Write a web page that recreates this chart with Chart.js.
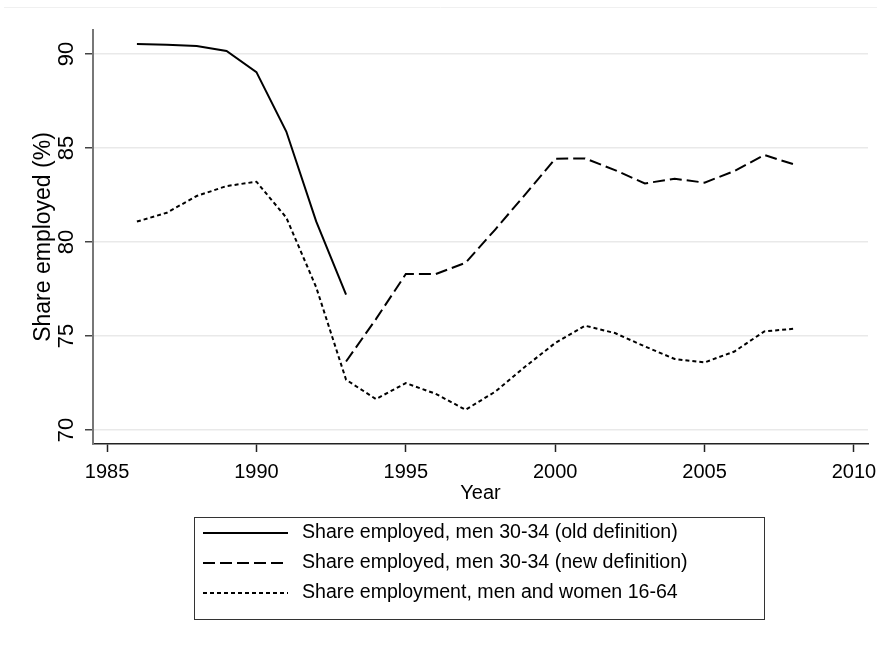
<!DOCTYPE html>
<html>
<head>
<meta charset="utf-8">
<script src="https://cdn.jsdelivr.net/npm/chart.js@4"></script>
<style>
  html, body { margin: 0; padding: 0; background: #fff; }
  #wrap { width: 877px; height: 646px; }
</style>
</head>
<body>
<div id="wrap"><canvas id="myChart" width="877" height="646"></canvas></div>
<script>
// Data
const years = [1986, 1987, 1988, 1989, 1990, 1991, 1992, 1993, 1994, 1995, 1996, 1997,
  1998, 1999, 2000, 2001, 2002, 2003, 2004, 2005, 2006, 2007, 2008];

const oldDefinition = [90.53, 90.50, 90.43, 90.16, 89.04, 85.88, 81.1, 77.2,
  null, null, null, null, null, null, null, null, null, null, null, null, null, null, null];

const newDefinition = [null, null, null, null, null, null, null, 73.65, 75.9, 78.3, 78.3, 78.9,
  80.68, 82.54, 84.43, 84.45, 83.83, 83.12, 83.37, 83.16, 83.78, 84.63, 84.13];

const employment = [81.09, 81.56, 82.45, 82.98, 83.21, 81.3, 77.6, 72.68, 71.65, 72.5, 71.93, 71.08,
  72.05, 73.38, 74.63, 75.55, 75.16, 74.45, 73.78, 73.6, 74.18, 75.25, 75.39];

const seriesLabels = [
  "Share employed, men 30-34 (old definition)",
  "Share employed, men 30-34 (new definition)",
  "Share employment, men and women 16-64"
];

const xTicks = [1985, 1990, 1995, 2000, 2005, 2010];
const yTicks = [70, 75, 80, 85, 90];

const FONT = "'Liberation Sans', Arial, sans-serif";

function points(values) {
  return years.map((y, i) => ({ x: y, y: values[i] }));
}

function makeSet(label, values, dash) {
  return {
    label: label,
    data: points(values),
    borderColor: "#000",
    borderWidth: 2,
    borderDash: dash,
    pointRadius: 0,
    tension: 0,
    fill: false,
    spanGaps: false
  };
}

// rotated y tick labels, framed legend, faint top rule
const extras = {
  id: "extras",
  beforeDraw(chart) {
    const ctx = chart.ctx;
    ctx.save();
    ctx.strokeStyle = "#f0f0f0";
    ctx.lineWidth = 1;
    ctx.beginPath();
    ctx.moveTo(4, 7.5);
    ctx.lineTo(877, 7.5);
    ctx.stroke();
    ctx.restore();
  },
  afterDraw(chart) {
    const ctx = chart.ctx;
    const ys = chart.scales.y;
    ctx.save();
    ctx.fillStyle = "#000";
    ctx.font = "22px " + FONT;
    ctx.textAlign = "center";
    ctx.textBaseline = "middle";
    yTicks.forEach(v => {
      const py = ys.getPixelForValue(v);
      ctx.save();
      ctx.translate(67, py);
      ctx.rotate(-Math.PI / 2);
      ctx.fillText(String(v), 0, 0);
      ctx.restore();
    });

    // legend box
    const bx = 194, by = 517, bw = 570, bh = 102;
    ctx.strokeStyle = "#333";
    ctx.lineWidth = 1;
    ctx.strokeRect(bx + 0.5, by + 0.5, bw, bh);
    ctx.font = "19.6px " + FONT;
    ctx.textAlign = "left";
    chart.data.datasets.forEach((ds, i) => {
      const ry = 533 + i * 30;
      ctx.strokeStyle = "#000";
      ctx.lineWidth = 2;
      ctx.setLineDash(ds.borderDash || []);
      ctx.beginPath();
      ctx.moveTo(203, ry);
      ctx.lineTo(288, ry);
      ctx.stroke();
      ctx.setLineDash([]);
      ctx.fillText(ds.label, 302, ry);
    });
    ctx.restore();
  }
};

const ctx = document.getElementById("myChart").getContext("2d");
const myChart = new Chart(ctx, {
  type: "line",
  data: {
    datasets: [
      makeSet(seriesLabels[0], oldDefinition, []),
      makeSet(seriesLabels[1], newDefinition, [12, 5]),
      makeSet(seriesLabels[2], employment, [4, 3])
    ]
  },
  options: {
    responsive: false,
    animation: false,
    layout: { padding: { top: 30, right: 9, left: 0, bottom: 138 } },
    plugins: {
      legend: { display: false },
      tooltip: { enabled: false }
    },
    scales: {
      x: {
        type: "linear",
        min: 1984.53,
        max: 2010.47,
        afterBuildTicks: s => { s.ticks = xTicks.map(v => ({ value: v })); },
        afterFit: s => { s.height = 64; s.paddingLeft = 0; s.paddingRight = 0; },
        ticks: {
          color: "#000",
          font: { family: FONT, size: 20 },
          padding: 8,
          maxRotation: 0,
          callback: v => String(v)
        },
        grid: {
          drawOnChartArea: false,
          drawTicks: true,
          tickLength: 8,
          tickColor: "#222",
          tickWidth: 1.5
        },
        border: { color: "#222", width: 1.5 },
        title: {
          display: true,
          text: "Year",
          color: "#000",
          font: { family: FONT, size: 20 },
          padding: { top: 0, bottom: 3 }
        }
      },
      y: {
        type: "linear",
        min: 69.26,
        max: 91.28,
        afterBuildTicks: s => { s.ticks = yTicks.map(v => ({ value: v })); },
        afterFit: s => { s.width = 93; s.paddingTop = 0; s.paddingBottom = 0; },
        ticks: { display: false },
        grid: {
          color: "#e9e9e9",
          lineWidth: 1.5,
          drawTicks: true,
          tickLength: 8,
          tickColor: "#444",
          tickWidth: 1.5
        },
        border: { color: "#777", width: 2 },
        title: {
          display: true,
          text: "Share employed (%)",
          color: "#000",
          font: { family: FONT, size: 23 },
          padding: { top: 30, bottom: 0 }
        }
      }
    }
  },
  plugins: [extras]
});
</script>
</body>
</html>
